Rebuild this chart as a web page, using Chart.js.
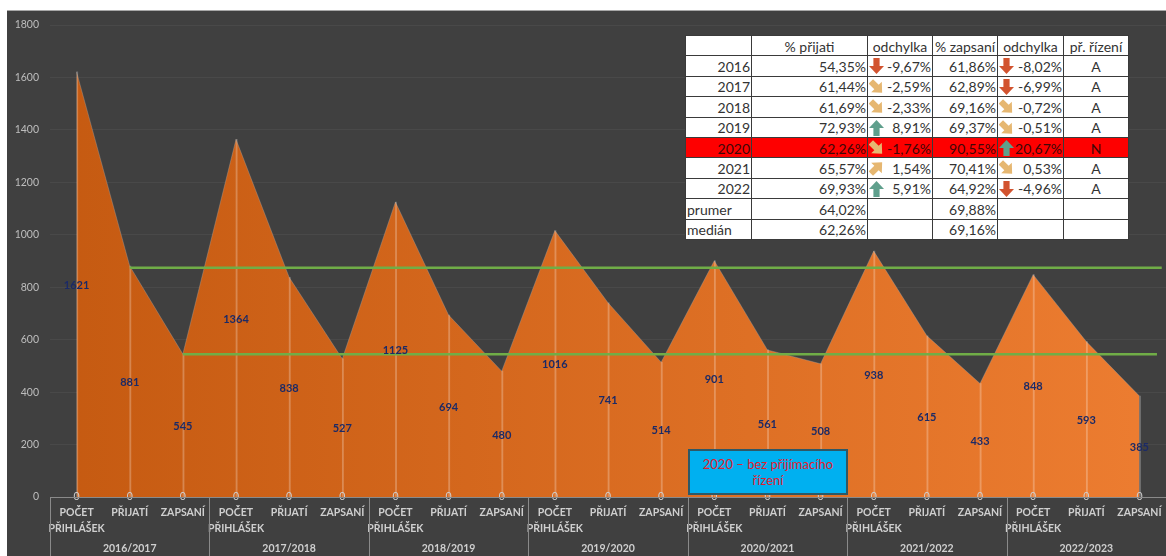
<!DOCTYPE html>
<html lang="cs"><head><meta charset="utf-8">
<script src="https://cdn.jsdelivr.net/npm/chart.js@4"></script>
<style>
html,body{margin:0;padding:0;background:#fff;overflow:hidden;width:1166px;height:556px;font-family:Lato,sans-serif}
#panel{position:absolute;left:7px;top:10px;width:1159px;height:546px;background:#404040;border-top:1px solid #a8a8a8;box-sizing:border-box}
#wrap{position:absolute;left:0;top:0;width:1166px;height:556px}
table{position:absolute;left:685px;top:35px;width:443px;height:205px;border-collapse:collapse;table-layout:fixed;background:#fff;color:#333;font:14px Lato,sans-serif}
td{border:1.5px solid #3a3a3a;padding:1px 1px 0;height:18.1px;line-height:15px;white-space:nowrap;text-align:right;overflow:hidden}
td.c{text-align:center}
td.l{text-align:left}
td.d{position:relative}
td.d svg{position:absolute;left:1px;top:2px}
tr.hot td{background:#fe0000;color:#3f0707}
#note{position:absolute;left:688px;top:449px;width:160px;height:46px;box-sizing:border-box;background:#00b0f0;border:2px solid #2f5866;color:#e0202f;font:13px/16px Lato,sans-serif;text-align:center;padding:5px 8px 0}
</style></head><body>
<div id="panel"></div>
<div id="wrap"><canvas id="c" width="1166" height="556"></canvas></div>
<table id="t"></table>
<div id="note">2020 – bez přijímacího řízení</div>
<script>
const stages=['POČET PŘIHLÁŠEK','PŘIJATÍ','ZAPSANÍ'];
const years=['2016/2017','2017/2018','2018/2019','2019/2020','2020/2021','2021/2022','2022/2023'];
const applied=[1621,1364,1125,1016,901,938,848];
const admitted=[881,838,694,741,561,615,593];
const enrolled=[545,527,480,514,508,433,385];
const upperLine=[[1,874],[20.42,874]];
const lowerLine=[[2,544],[20.33,544]];
const yTicks=[0,200,400,600,800,1000,1200,1400,1600,1800];
const tableHead=['','% přijati','odchylka','% zapsaní','odchylka','př. řízení'];
const tableYears=['2016','2017','2018','2019','2020','2021','2022'];
const pctAdmitted=['54,35%','61,44%','61,69%','72,93%','62,26%','65,57%','69,93%'];
const devAdmitted=['-9,67%','-2,59%','-2,33%','8,91%','-1,76%','1,54%','5,91%'];
const iconAdmitted=['down','dr','dr','up','dr','ur','up'];
const pctEnrolled=['61,86%','62,89%','69,16%','69,37%','90,55%','70,41%','64,92%'];
const devEnrolled=['-8,02%','-6,99%','-0,72%','-0,51%','20,67%','0,53%','-4,96%'];
const iconEnrolled=['down','down','dr','dr','up','dr','down'];
const procedure=['A','A','A','A','N','A','A'];
const summary=[['prumer','64,02%','69,88%'],['medián','62,26%','69,16%']];

const values=[],labels=[];
years.forEach((y,i)=>{values.push(applied[i],admitted[i],enrolled[i]);stages.forEach(s=>labels.push(s==='POČET PŘIHLÁŠEK'?['POČET','PŘIHLÁŠEK']:s));});

const arrowCol={down:'#d2532f',up:'#5f9f8c',dr:'#e6b771',ur:'#e6b771'};
const arrowRot={down:180,up:0,dr:135,ur:45};
function icon(k){return `<svg width="15" height="16" viewBox="0 0 15 16"><g transform="rotate(${arrowRot[k]} 7.5 8)"><path d="M7.5 0 L15 8 L10.6 8 L10.6 16 L4.4 16 L4.4 8 L0 8 Z" fill="${arrowCol[k]}"/></g></svg>`;}
const colW=[66,116,65,65,66,65];
let html='<colgroup>'+colW.map(w=>`<col style="width:${w}px">`).join('')+'</colgroup>';
html+='<tr>'+tableHead.map(h=>`<td class="c">${h}</td>`).join('')+'</tr>';
tableYears.forEach((y,i)=>{
  html+=`<tr class="${y==='2020'?'hot':''}"><td>${y}</td><td>${pctAdmitted[i]}</td><td class="d">${icon(iconAdmitted[i])}${devAdmitted[i]}</td><td>${pctEnrolled[i]}</td><td class="d">${icon(iconEnrolled[i])}${devEnrolled[i]}</td><td class="c">${procedure[i]}</td></tr>`;
});
summary.forEach(r=>{html+=`<tr><td class="l">${r[0]}</td><td>${r[1]}</td><td></td><td>${r[2]}</td><td></td><td></td></tr>`;});
document.getElementById('t').innerHTML=html;

const annot={id:'annot',afterDatasetsDraw(ch){
  const {ctx,scales:{x,y}}=ch;
  ctx.save();
  ctx.textAlign='center';ctx.textBaseline='middle';
  ctx.font='bold 11px Lato';ctx.fillStyle='#1b2a66';
  values.forEach((v,i)=>ctx.fillText(String(v),x.getPixelForValue(i),y.getPixelForValue(v/2)+1));
  ctx.font='10.5px Lato';ctx.fillStyle='#cfcfcf';
  values.forEach((v,i)=>ctx.fillText('0',x.getPixelForValue(i),y.getPixelForValue(0)));
  const b=y.bottom, band=(x.right-x.left)/values.length;
  ctx.strokeStyle='#8a8a8a';ctx.lineWidth=1;
  ctx.beginPath();ctx.moveTo(x.left,b+.5);ctx.lineTo(x.right,b+.5);
  years.forEach((yr,i)=>{const p=Math.round(x.left+band*3*i)+.5;ctx.moveTo(p,b);ctx.lineTo(p,ch.height);});
  ctx.stroke();
  ctx.font='bold 10.5px Lato';ctx.fillStyle='#cfcfcf';
  years.forEach((yr,i)=>ctx.fillText(yr,x.getPixelForValue(i*3+1),549));
  ctx.restore();
}};

new Chart(document.getElementById('c'),{
  data:{labels,datasets:[
    {type:'line',label:'upper',xAxisID:'x2',data:upperLine.map(p=>({x:p[0],y:p[1]})),borderColor:'#70ad47',borderWidth:2.5,pointRadius:0,order:1},
    {type:'line',label:'lower',xAxisID:'x2',data:lowerLine.map(p=>({x:p[0],y:p[1]})),borderColor:'#70ad47',borderWidth:2.5,pointRadius:0,order:1},
    {type:'bar',label:'drop',data:values,backgroundColor:'rgba(255,255,255,.25)',barThickness:1.2,order:2},
    {type:'line',label:'area',data:values,fill:'origin',tension:0,pointRadius:0,borderWidth:1,borderColor:'rgba(170,170,170,.35)',order:3,
     backgroundColor(c){const a=c.chart.chartArea;if(!a)return '#c55a11';const g=c.chart.ctx.createLinearGradient(a.left,0,a.right,0);g.addColorStop(0,'#c55a11');g.addColorStop(1,'#ed7d31');return g;}}
  ]},
  options:{
    responsive:false,animation:false,
    layout:{padding:{left:0,right:0,top:25,bottom:0}},
    plugins:{legend:{display:false},tooltip:{enabled:false},title:{display:false}},
    scales:{
      x:{type:'category',offset:true,grid:{display:false},border:{display:false},
         afterFit(s){s.height=59;s.paddingLeft=0;s.paddingRight=0;},
         ticks:{autoSkip:false,maxRotation:0,minRotation:0,padding:0,color:'#cfcfcf',font:{family:'Lato',size:10.5,weight:'bold',lineHeight:1.5}}},
      x2:{type:'linear',display:false,min:-0.5,max:20.5},
      y:{min:0,max:1800,afterFit(s){s.width=50;},
         afterBuildTicks(s){s.ticks=yTicks.map(v=>({value:v}));},
         border:{display:false},
         grid:{color:'rgba(255,255,255,.05)',drawTicks:false,borderDash:[2,2]},
         ticks:{padding:11,color:'#bdbdbd',font:{family:'Lato',size:10.5},callback:v=>String(v)}}
    }
  },
  plugins:[annot]
});
</script>
</body></html>
